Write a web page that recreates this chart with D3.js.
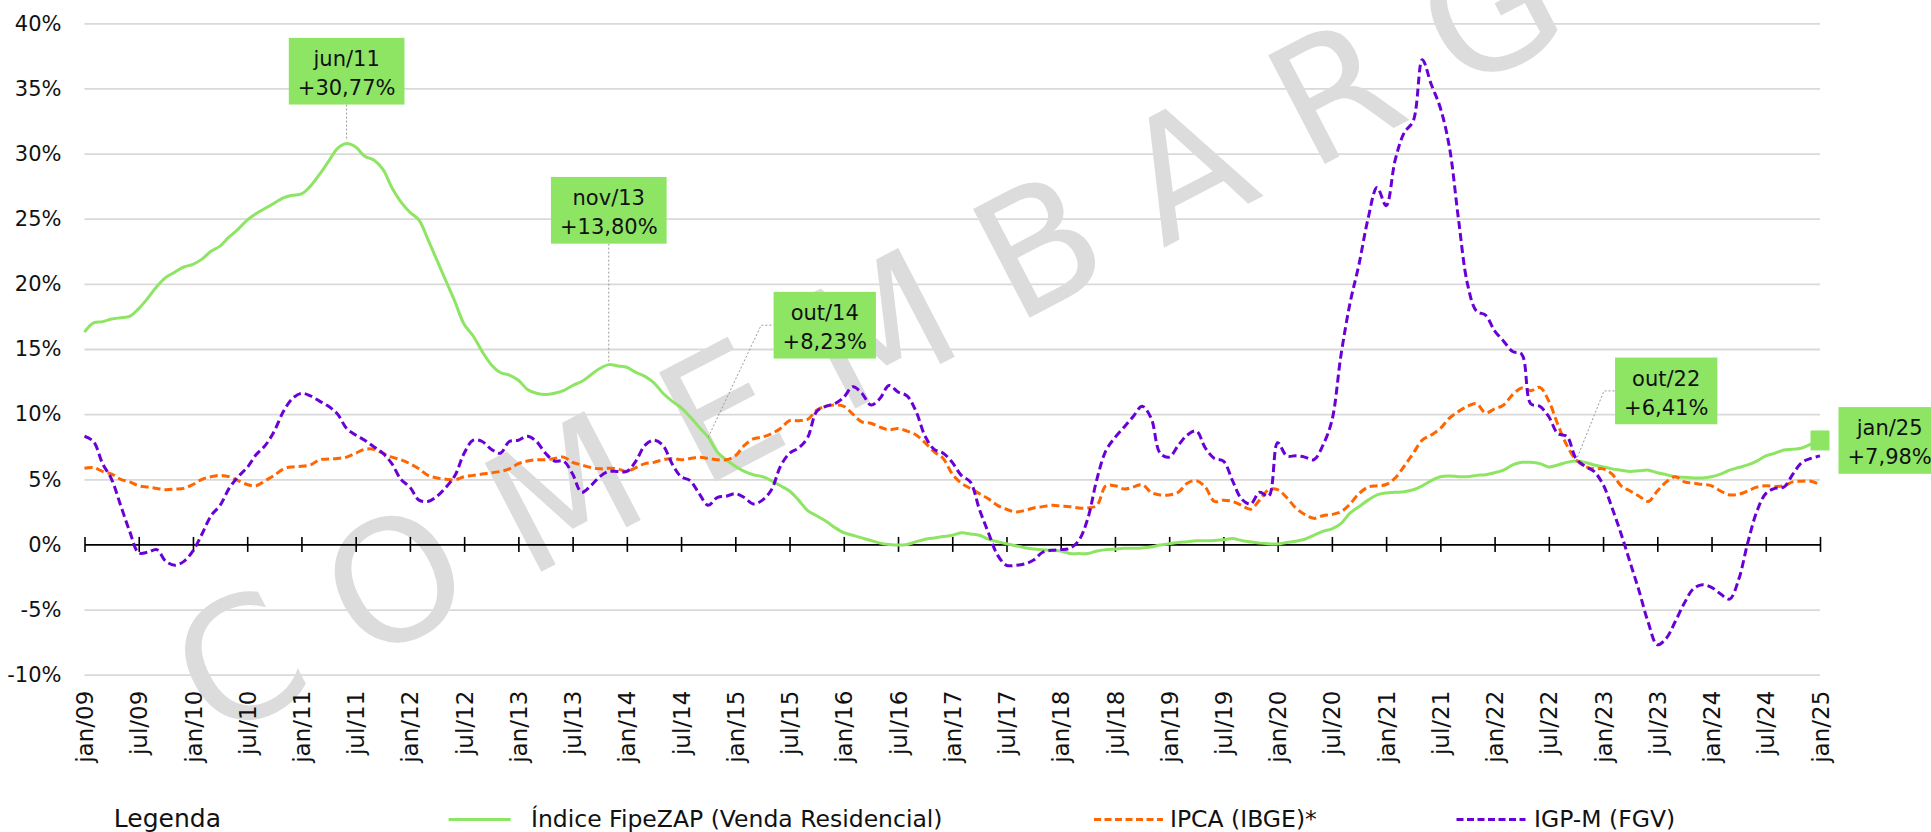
<!DOCTYPE html>
<html>
<head>
<meta charset="utf-8">
<script src="https://cdn.jsdelivr.net/npm/d3@7"></script>
<style>
  html, body { margin: 0; padding: 0; background: #fff; }
  svg { display: block; font-family: "DejaVu Sans", sans-serif; }
</style>
</head>
<body>
<div id="chart-mount"></div>
<script>
// monthly series, jan/09 .. jan/25 (12 values per row)
var FIPEZAP = [
  16.3, 17.0, 17.1, 17.3, 17.4, 17.5, 18.1, 18.9, 19.8, 20.5, 20.9, 21.3,
  21.5, 21.9, 22.5, 22.9, 23.6, 24.2, 24.9, 25.4, 25.8, 26.2, 26.6, 26.8,
  26.9, 27.5, 28.4, 29.4, 30.4, 30.77, 30.5, 29.8, 29.5, 28.8, 27.4, 26.3,
  25.5, 24.9, 23.4, 21.8, 20.2, 18.6, 16.9, 16.0, 14.8, 13.8, 13.2, 13.0,
  12.6, 11.9, 11.6, 11.5, 11.6, 11.8, 12.2, 12.5, 13.0, 13.5, 13.80, 13.7,
  13.6, 13.2, 12.9, 12.4, 11.6, 11.0, 10.5, 9.8, 9.0, 8.23, 7.1, 6.5,
  6.0, 5.6, 5.35, 5.2, 4.9, 4.5, 4.1, 3.4, 2.6, 2.2, 1.8, 1.3,
  0.9, 0.7, 0.5, 0.3, 0.1, 0.0, -0.05, 0.0, 0.2, 0.4, 0.5, 0.6,
  0.7, 0.9, 0.8, 0.7, 0.4, 0.2, 0.05, -0.1, -0.25, -0.35, -0.4, -0.45,
  -0.5, -0.7, -0.7, -0.7, -0.5, -0.4, -0.35, -0.3, -0.3, -0.28, -0.2, -0.05,
  0.05, 0.15, 0.2, 0.28, 0.28, 0.3, 0.35, 0.45, 0.3, 0.2, 0.1, 0.05,
  0.03, 0.15, 0.25, 0.4, 0.7, 1.0, 1.2, 1.6, 2.4, 2.9, 3.4, 3.8,
  3.95, 4.0, 4.05, 4.2, 4.5, 4.9, 5.2, 5.25, 5.2, 5.2, 5.3, 5.35,
  5.5, 5.7, 6.1, 6.3, 6.3, 6.2, 5.95, 6.1, 6.3, 6.41, 6.3, 6.1,
  5.95, 5.8, 5.7, 5.6, 5.65, 5.7, 5.5, 5.35, 5.2, 5.15, 5.1, 5.1,
  5.2, 5.4, 5.7, 5.9, 6.1, 6.4, 6.8, 7.0, 7.25, 7.3, 7.4, 7.7,
  7.98
];

var IPCA = [
  5.85, 5.9, 5.6, 5.4, 5.0, 4.8, 4.5, 4.4, 4.3, 4.2, 4.25, 4.3,
  4.6, 5.0, 5.2, 5.3, 5.2, 4.9, 4.6, 4.5, 4.9, 5.3, 5.8, 5.95,
  6.0, 6.1, 6.5, 6.55, 6.6, 6.7, 7.0, 7.3, 7.3, 7.0, 6.7, 6.5,
  6.2, 5.8, 5.3, 5.1, 5.0, 4.95, 5.2, 5.3, 5.4, 5.5, 5.6, 5.8,
  6.2, 6.4, 6.5, 6.5, 6.6, 6.7, 6.3, 6.1, 5.9, 5.8, 5.85, 5.8,
  5.6, 5.9, 6.2, 6.3, 6.5, 6.6, 6.5, 6.6, 6.7, 6.6, 6.5, 6.5,
  6.8, 7.6, 8.1, 8.25, 8.5, 8.9, 9.5, 9.5, 9.6, 10.3, 10.6, 10.7,
  10.6, 10.0, 9.4, 9.3, 9.0, 8.8, 8.9, 8.7, 8.4, 7.8, 7.1, 6.6,
  5.4, 4.7, 4.3, 3.9, 3.5, 3.0, 2.7, 2.5, 2.6, 2.8, 2.9, 3.0,
  2.95, 2.9, 2.8, 2.8, 3.0, 4.5, 4.5, 4.25, 4.4, 4.6, 4.0, 3.8,
  3.8, 4.0, 4.7, 4.9, 4.4, 3.3, 3.4, 3.3, 3.0, 2.7, 3.4, 4.2,
  4.2, 3.6, 2.8, 2.3, 2.0, 2.2, 2.3, 2.5, 3.1, 3.9, 4.4, 4.5,
  4.6, 5.1, 6.0, 7.0, 8.0, 8.4, 8.9, 9.7, 10.2, 10.6, 10.8, 10.1,
  10.4, 10.7, 11.5, 12.0, 11.8, 12.05, 11.0, 9.2, 7.6, 6.5, 6.0, 5.8,
  5.8, 5.4, 4.5, 4.1, 3.7, 3.3, 4.1, 4.8, 5.2, 4.8, 4.7, 4.6,
  4.5, 4.1, 3.8, 3.85, 4.1, 4.4, 4.5, 4.45, 4.5, 4.8, 4.85, 4.85,
  4.6
];

var IGPM = [
  8.3, 7.9, 6.2, 5.0, 3.0, 1.0, -0.65, -0.6, -0.4, -1.3, -1.6, -1.3,
  -0.5, 0.8, 2.2, 3.0, 4.3, 5.2, 5.9, 6.9, 7.6, 8.7, 10.2, 11.2,
  11.6, 11.4, 11.0, 10.6, 10.0, 8.9, 8.4, 8.0, 7.5, 7.0, 6.2, 5.0,
  4.4, 3.4, 3.3, 3.7, 4.4, 5.3, 7.0, 8.0, 7.9, 7.3, 7.0, 7.9,
  8.0, 8.3, 7.9, 7.0, 6.4, 6.4, 5.4, 4.0, 4.5, 5.2, 5.6, 5.6,
  5.6, 6.4, 7.6, 8.0, 7.6, 6.2, 5.2, 4.9, 3.9, 3.0, 3.6, 3.7,
  3.9, 3.6, 3.1, 3.4, 4.2, 6.0, 7.0, 7.4, 8.2, 10.2, 10.6, 10.8,
  11.3, 12.1, 11.6, 10.7, 11.2, 12.2, 11.7, 11.4, 10.2, 8.3, 7.3, 7.0,
  6.3, 5.3, 4.8, 2.7, 0.9, -0.8, -1.6, -1.6, -1.5, -1.2, -0.6, -0.45,
  -0.4, -0.3, 0.3, 2.0, 5.0, 7.2, 8.2, 9.0, 9.8, 10.6, 9.7, 7.0,
  6.7, 7.6, 8.4, 8.7, 7.4, 6.6, 6.4, 4.9, 3.5, 3.1, 4.0, 3.7,
  7.8, 6.8, 6.8, 6.7, 6.5, 7.6, 9.5, 14.5, 18.5, 21.5, 25.0, 27.4,
  26.0, 29.5, 31.6, 32.5, 37.2, 35.3, 33.5, 30.5, 25.0, 20.0, 17.9, 17.6,
  16.4, 15.6, 14.8, 14.6, 10.8, 10.6, 9.8, 8.5, 8.3, 6.6, 6.0, 5.6,
  4.6, 2.8, 0.8, -1.4, -3.6, -6.0, -7.7, -7.2, -5.9, -4.5, -3.4, -3.1,
  -3.3, -3.8, -4.2, -2.7, 0.1, 2.5, 3.9, 4.3, 4.4, 5.4, 6.3, 6.6,
  6.8
];

var SERIES_NAMES = ['Índice FipeZAP (Venda Residencial)', 'IPCA (IBGE)*', 'IGP-M (FGV)'];
var MONTH_ABBR = ['jan', 'fev', 'mar', 'abr', 'mai', 'jun', 'jul', 'ago', 'set', 'out', 'nov', 'dez'];
var FIRST_YEAR = 2009;
var Y_TICKS = [-10, -5, 0, 5, 10, 15, 20, 25, 30, 35, 40];
var X_TICKS = d3.range(0, FIPEZAP.length, 6);
var CALLOUTS = [29, 58, 69, 165, 192];   // highlighted FipeZAP months
var WATERMARK = 'C O M E M B A R G';

var WIDTH = 1931;
var HEIGHT = 832;
var X0 = 84.5, X1 = 1820;
var Y_TOP = 23.3, Y_BOTTOM = 674.7;
var GREEN = '#8ee564';
var ORANGE = '#ff6600';
var PURPLE = '#6a00d8';

var STYLES = [
  { color: GREEN, dash: null },
  { color: ORANGE, dash: '8,4' },
  { color: PURPLE, dash: '8,4' }
];

// where each callout box sits relative to its point
var CALLOUT_LAYOUT = {
  29: { kind: 'above', gap: 39 },
  58: { kind: 'above', gap: 121 },
  69: { kind: 'elbow', dx: 53, dy: -112, pad: 12.4 },
  165: { kind: 'elbow', dx: 28, dy: -70, pad: 11.1 },
  192: { kind: 'side', dx: 18.5 }
};

var LEGEND = {
  titleX: 113.8,
  lineY: 819.5,
  baseline: 827,
  sampleX: [448.6, 1094, 1456.5],
  sampleW: [62, 69, 69],
  textX: [531, 1170, 1534]
};

var x = d3.scaleLinear().domain([0, FIPEZAP.length - 1]).range([X0, X1]);
var y = d3.scaleLinear().domain([-10, 40]).range([Y_BOTTOM, Y_TOP]);

var $svg = d3.select('#chart-mount').append('svg')
  .attr('width', WIDTH)
  .attr('height', HEIGHT);

function monthLabel (i) {
  var yr = (FIRST_YEAR + Math.floor(i / 12)) % 100;
  return MONTH_ABBR[i % 12] + '/' + (yr < 10 ? '0' + yr : yr);
}

function valueLabel (v) {
  return '+' + d3.format('.2f')(v).replace('.', ',') + '%';
}

function drawGrid () {
  var g = $svg.append('g')
    .attr('class', 'y-axis')
    .attr('transform', 'translate(' + X0 + ',0)')
    .call(d3.axisLeft(y)
      .tickValues(Y_TICKS)
      .tickSize(-(X1 - X0))
      .tickPadding(23)
      .tickFormat(function (d) { return d + '%'; }));

  g.select('.domain').remove();
  g.selectAll('.tick line')
    .attr('stroke', '#d9d9d9')
    .attr('stroke-width', 1.8)
    .attr('display', function (d) { return d === 0 ? 'none' : null; });
  g.selectAll('.tick text')
    .attr('fill', '#111')
    .attr('font-size', 21)
    .attr('font-family', '"DejaVu Sans", sans-serif');
}

function drawWatermark () {
  $svg.append('g')
    .attr('transform', 'translate(866,334) rotate(-27.5)')
    .append('text')
      .attr('text-anchor', 'middle')
      .attr('y', 61)
      .attr('font-size', 168)
      .attr('letter-spacing', -1)
      .attr('fill', '#dcdcdc')
      .text(WATERMARK);
}

function drawZeroAxis () {
  var g = $svg.append('g')
    .attr('transform', 'translate(0,' + y(0) + ')')
    .call(d3.axisBottom(x)
      .tickValues(X_TICKS)
      .tickSize(7.5)
      .tickSizeOuter(0)
      .tickFormat(''));

  g.select('.domain')
    .attr('stroke', '#000')
    .attr('stroke-width', 1.6);
  g.selectAll('.tick line')
    .attr('y1', -7.5)
    .attr('stroke', '#000')
    .attr('stroke-width', 1.6);
}

function drawTickLabels () {
  var g = $svg.append('g')
    .attr('transform', 'translate(0,' + Y_BOTTOM + ')')
    .call(d3.axisBottom(x)
      .tickValues(X_TICKS)
      .tickSize(0)
      .tickFormat(monthLabel));

  g.select('.domain').remove();
  g.selectAll('.tick text')
    .attr('transform', 'rotate(-90)')
    .attr('text-anchor', 'end')
    .attr('x', -16)
    .attr('y', 0)
    .attr('dy', '0.35em')
    .attr('fill', '#111')
    .attr('font-size', 23)
    .attr('font-family', '"DejaVu Sans", sans-serif');
}

function drawSeries () {
  var line = d3.line()
    .x(function (d, i) { return x(i); })
    .y(function (d) { return y(d); })
    .curve(d3.curveCatmullRom.alpha(0.5));

  $svg.append('g')
    .selectAll('path')
    .data([FIPEZAP, IPCA, IGPM])
    .enter()
      .append('path')
      .attr('d', line)
      .attr('fill', 'none')
      .attr('stroke', function (d, i) { return STYLES[i].color; })
      .attr('stroke-width', 3)
      .attr('stroke-dasharray', function (d, i) { return STYLES[i].dash; })
      .attr('stroke-linejoin', 'round');
}

function drawCallouts () {
  var BOX_H = 66.7;
  var PAD = 9;

  CALLOUTS.forEach(function (i) {
    var layout = CALLOUT_LAYOUT[i];
    var px = x(i);
    var py = y(FIPEZAP[i]);
    var g = $svg.append('g');
    var connector = g.append('g');
    var rect = g.append('rect').attr('fill', GREEN);
    var label = g.append('text')
      .attr('text-anchor', 'middle')
      .attr('font-size', 21)
      .attr('fill', '#111');
    var l1 = label.append('tspan').text(monthLabel(i));
    var l2 = label.append('tspan').text(valueLabel(FIPEZAP[i]));
    var w = Math.max(l1.node().getComputedTextLength(), l2.node().getComputedTextLength()) + 2 * PAD;
    var left, top;

    if (layout.kind === 'above') {
      left = px - w / 2;
      top = py - layout.gap - BOX_H;
      connector.append('line')
        .attr('x1', px).attr('x2', px)
        .attr('y1', top + BOX_H).attr('y2', py - 3);
    } else if (layout.kind === 'elbow') {
      var ex = px + layout.dx;
      var ey = py + layout.dy;
      left = ex + layout.pad;
      top = ey - BOX_H / 2;
      connector.append('polyline')
        .attr('points', [[px, py], [ex, ey], [left, ey]].join(' '))
        .attr('fill', 'none');
    } else {
      left = px + layout.dx;
      top = py - BOX_H / 2;
      g.append('rect')
        .attr('x', px - 9.5).attr('y', py - 10)
        .attr('width', 19).attr('height', 20)
        .attr('fill', GREEN);
    }

    connector.selectAll('line, polyline')
      .attr('stroke', '#9a9a9a')
      .attr('stroke-width', 1)
      .attr('stroke-dasharray', '2,2');

    rect.attr('x', left).attr('y', top).attr('width', w).attr('height', BOX_H);
    l1.attr('x', left + w / 2).attr('y', top + 28);
    l2.attr('x', left + w / 2).attr('y', top + 57);
  });
}

function drawLegend () {
  var g = $svg.append('g')
    .attr('font-size', 23.5)
    .attr('fill', '#111');

  g.append('text')
    .attr('x', LEGEND.titleX)
    .attr('y', LEGEND.baseline)
    .attr('font-size', 25)
    .text('Legenda');

  var item = g.selectAll('.item')
    .data(SERIES_NAMES)
    .enter()
      .append('g')
      .attr('class', 'item');

  item.append('line')
    .attr('x1', function (d, i) { return LEGEND.sampleX[i]; })
    .attr('x2', function (d, i) { return LEGEND.sampleX[i] + LEGEND.sampleW[i]; })
    .attr('y1', LEGEND.lineY)
    .attr('y2', LEGEND.lineY)
    .attr('stroke', function (d, i) { return STYLES[i].color; })
    .attr('stroke-width', 3)
    .attr('stroke-dasharray', function (d, i) { return STYLES[i].dash ? '7,3.5' : null; });

  item.append('text')
    .attr('x', function (d, i) { return LEGEND.textX[i]; })
    .attr('y', LEGEND.baseline)
    .text(function (d) { return d; });
}

drawGrid();
drawWatermark();
drawZeroAxis();
drawTickLabels();
drawSeries();
drawCallouts();
drawLegend();
</script>
</body>
</html>
